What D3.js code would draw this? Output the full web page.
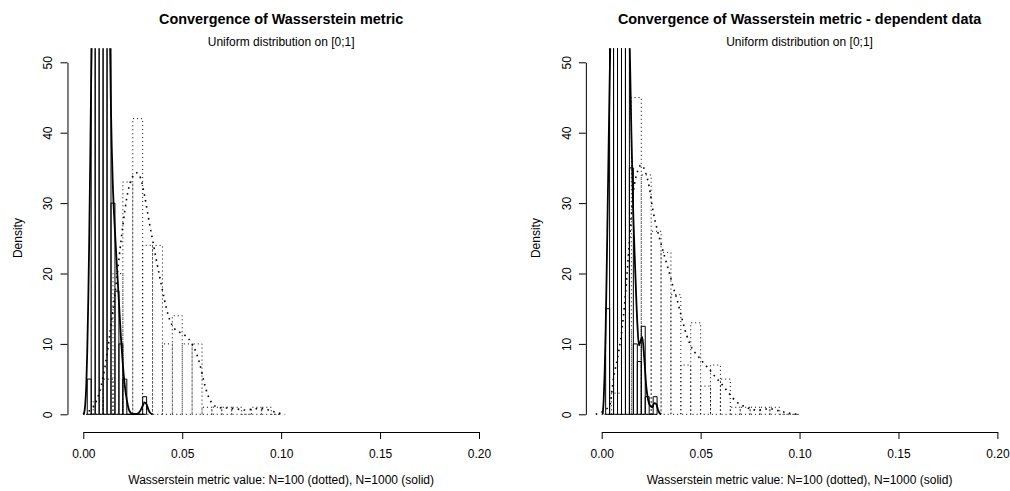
<!DOCTYPE html>
<html>
<head>
<meta charset="utf-8">
<script src="https://cdn.jsdelivr.net/npm/d3@7"></script>
<style>
  body { margin: 0; background: #fff; }
  svg { display: block; }
  text { font-family: "Liberation Sans", Arial, Helvetica, sans-serif; fill: #000; }
</style>
</head>
<body>
<svg id="chart" width="1010" height="491"></svg>
<script>
// ---- axis ticks ----
const xTicks = [0, 0.05, 0.10, 0.15, 0.20];
const yTicks = [0, 10, 20, 30, 40, 50];

// ---- histogram breaks ----
const breaksN100 = [0, 0.005, 0.010, 0.015, 0.020, 0.025, 0.030, 0.035, 0.040, 0.045, 0.050,
                    0.055, 0.060, 0.065, 0.070, 0.075, 0.080, 0.085, 0.090, 0.095, 0.100];
const breaksN1000Indep = [0.002, 0.004, 0.006, 0.008, 0.010, 0.012, 0.014, 0.016, 0.018,
                          0.020, 0.022, 0.024, 0.026, 0.028, 0.030, 0.032];
const breaksN1000Dep = [0.002, 0.004, 0.006, 0.008, 0.010, 0.012, 0.014, 0.016, 0.018,
                        0.020, 0.022, 0.024, 0.026, 0.028];

// ---- histogram densities: independent sample ----
const densN100Indep  = [0, 2, 5, 20, 33, 42, 24, 24, 10, 14, 10, 10, 1, 1, 1, 1, 0, 1, 1, 0];
const densN1000Indep = [5, 60, 95, 100, 95, 80, 30, 17.5, 10, 5, 0, 0, 0, 0, 2.5];

// ---- histogram densities: dependent sample ----
const densN100Dep  = [0, 3, 12, 45, 34, 26, 23, 17, 7, 13, 4, 7, 5, 1, 1, 1, 1, 1, 0, 0];
const densN1000Dep = [15, 65, 90, 95, 90, 75, 35, 10, 7.5, 12.5, 2.5, 0, 2.5];

// ---- kernel density curves: independent sample ----
const kdeN100IndepX = [0.000, 0.001, 0.003, 0.005, 0.007, 0.009, 0.011, 0.013, 0.015,
                       0.017, 0.019, 0.021, 0.023, 0.025, 0.027, 0.029, 0.031, 0.033, 0.035,
                       0.037, 0.039, 0.041, 0.043, 0.045, 0.047, 0.049, 0.051, 0.053, 0.055,
                       0.057, 0.059, 0.061, 0.063, 0.065, 0.067, 0.070, 0.073, 0.076, 0.079,
                       0.082, 0.085, 0.088, 0.091, 0.094, 0.097, 0.100, 0.102];
const kdeN100IndepY = [0.05, 0.2, 0.5, 1.0, 2.2, 4.0, 6.8, 10.5, 14.8,
                       19.5, 24.5, 29.0, 32.2, 33.8, 34.3, 33.5, 31.0, 27.8, 24.8,
                       21.8, 19.0, 16.3, 14.0, 12.6, 11.9, 11.6, 11.3, 10.8, 10.0,
                       8.8, 7.0, 4.6, 2.7, 1.6, 1.1, 0.9, 0.9, 0.8, 0.7,
                       0.6, 0.7, 0.8, 0.8, 0.6, 0.3, 0.1, 0];
const kdeN1000IndepX = [0.000, 0.0005, 0.001, 0.0015, 0.002, 0.0025, 0.003, 0.0035, 0.004, 0.005,
                        0.006, 0.008, 0.010, 0.012, 0.013, 0.0135, 0.014, 0.015, 0.016, 0.017,
                        0.018, 0.019, 0.020, 0.021, 0.022, 0.023, 0.024, 0.025, 0.027, 0.028,
                        0.029, 0.030, 0.031, 0.032, 0.033, 0.034, 0.035];
const kdeN1000IndepY = [0, 0.3, 1.5, 4, 9, 16, 25, 36, 48, 68,
                        83, 96, 98, 85, 65, 53, 43, 32, 26, 21,
                        16, 11, 7, 4, 2, 0.7, 0.2, 0.05, 0.05, 0.2,
                        0.6, 1.2, 1.7, 1.4, 0.6, 0.15, 0];

// ---- kernel density curves: dependent sample ----
const kdeN100DepX = [-0.003, -0.002, 0.000, 0.002, 0.004, 0.006, 0.008, 0.010, 0.012, 0.014,
                     0.016, 0.018, 0.020, 0.022, 0.024, 0.026, 0.028, 0.030, 0.032, 0.034,
                     0.036, 0.038, 0.040, 0.042, 0.044, 0.046, 0.048, 0.050, 0.052, 0.054,
                     0.056, 0.058, 0.060, 0.062, 0.064, 0.066, 0.068, 0.070, 0.073, 0.076,
                     0.079, 0.082, 0.085, 0.088, 0.091, 0.094, 0.097, 0.099];
const kdeN100DepY = [0, 0.1, 0.3, 0.7, 1.2, 5.2, 8.0, 11.5, 17.0, 24.5,
                     31.5, 34.4, 35.4, 34.5, 32.3, 28.8, 26.3, 24.2, 22.2, 20.3,
                     18.2, 16.4, 14.2, 12.1, 10.4, 9.2, 8.5, 7.8, 7.1, 6.5,
                     5.8, 5.1, 4.5, 3.8, 3.1, 2.4, 1.8, 1.4, 1.0, 0.7,
                     0.6, 0.7, 0.8, 0.6, 0.4, 0.2, 0.05, 0];
const kdeN1000DepX = [0.0005, 0.001, 0.0015, 0.002, 0.0025, 0.003, 0.0035, 0.004, 0.0045, 0.005,
                      0.006, 0.008, 0.010, 0.012, 0.013, 0.014, 0.015, 0.016, 0.017, 0.018,
                      0.0188, 0.0195, 0.0205, 0.0215, 0.0225, 0.0235, 0.0245, 0.0255, 0.0265, 0.0275,
                      0.0285, 0.0295, 0.030];
const kdeN1000DepY = [0, 2, 6, 12, 20, 29, 38, 47, 55, 62,
                      75, 90, 95, 85, 70, 55, 40, 28, 20, 13,
                      9.8, 10.3, 11, 8, 4, 2, 1.2, 1, 1.6, 1.5,
                      0.6, 0.1, 0];

const mainTitles = ["Convergence of Wasserstein metric",
                    "Convergence of Wasserstein metric - dependent data"];
const subTitle = "Uniform distribution on [0;1]";
const xLabel = "Wasserstein metric value: N=100 (dotted), N=1000 (solid)";
const yLabel = "Density";

const panels = [
  { title: mainTitles[0], dx: 0,
    hist100: densN100Indep, hist1000: densN1000Indep, breaks1000: breaksN1000Indep,
    kde100: [kdeN100IndepX, kdeN100IndepY], kde1000: [kdeN1000IndepX, kdeN1000IndepY] },
  { title: mainTitles[1], dx: 518.4,
    hist100: densN100Dep, hist1000: densN1000Dep, breaks1000: breaksN1000Dep,
    kde100: [kdeN100DepX, kdeN100DepY], kde1000: [kdeN1000DepX, kdeN1000DepY] }
];

const svg = d3.select("#chart");
const FONT = 12;

// plot region in panel coordinates (4% extension around the axis limits)
const x0px = 83.3, x1px = 479.0, y0px = 414.3, y50px = 62.3;
const padX = (x1px - x0px) * 0.04, padY = (y0px - y50px) * 0.04;
const plotL = x0px - padX, plotR = x1px + padX, plotT = y50px - padY, plotB = 432;

panels.forEach((p, i) => {
  const g = svg.append("g").attr("transform", `translate(${p.dx},0)`);
  const x = d3.scaleLinear().domain([0, 0.2]).range([x0px, x1px]);
  const y = d3.scaleLinear().domain([0, 50]).range([y0px, y50px]);

  const clipId = "clip" + i;
  g.append("clipPath").attr("id", clipId).append("rect")
    .attr("x", plotL).attr("y", plotT).attr("width", plotR - plotL).attr("height", plotB - plotT);
  const plot = g.append("g").attr("clip-path", `url(#${clipId})`);

  const barPath = (b0, b1, h) => {
    const xa = x(b0), xb = x(b1), ya = y(0), yb = y(h);
    return `M${xa},${ya}L${xa},${yb}L${xb},${yb}L${xb},${ya}Z`;
  };

  // N=1000 histogram, solid outlines
  plot.append("g").selectAll("path").data(p.hist1000).join("path")
    .attr("d", (d, k) => barPath(p.breaks1000[k], p.breaks1000[k + 1], d))
    .attr("fill", "none").attr("stroke", "#000").attr("stroke-width", 1);

  // N=100 histogram, dotted outlines
  plot.append("g").selectAll("path").data(p.hist100).join("path")
    .attr("d", (d, k) => barPath(breaksN100[k], breaksN100[k + 1], d))
    .attr("fill", "none").attr("stroke", "#000").attr("stroke-width", 1)
    .attr("stroke-dasharray", "1,3");

  const line = d3.line().x(d => x(d[0])).y(d => y(d[1])).curve(d3.curveMonotoneX);
  const pts = arr => arr[0].map((v, k) => [v, arr[1][k]]);

  // density curves
  plot.append("path").datum(pts(p.kde1000)).attr("d", line)
    .attr("fill", "none").attr("stroke", "#000").attr("stroke-width", 1.8)
    .attr("stroke-linejoin", "round");
  plot.append("path").datum(pts(p.kde100)).attr("d", line)
    .attr("fill", "none").attr("stroke", "#000").attr("stroke-width", 1.6)
    .attr("stroke-dasharray", "1.6,4.4");

  // x axis
  const xa = g.append("g").attr("transform", `translate(0,${plotB})`)
    .call(d3.axisBottom(x).tickValues(xTicks).tickFormat(d3.format(".2f"))
      .tickSize(7).tickSizeOuter(0));
  xa.select(".domain").attr("stroke", "#000");
  xa.selectAll(".tick line").attr("stroke", "#000");
  xa.selectAll(".tick text").attr("y", 25.5).attr("dy", null)
    .style("font-size", FONT + "px").style("font-family", "Liberation Sans, Arial, sans-serif");

  // y axis
  const ya = g.append("g").attr("transform", `translate(${plotL},0)`)
    .call(d3.axisLeft(y).tickValues(yTicks).tickSize(7).tickSizeOuter(0));
  ya.select(".domain").attr("stroke", "#000");
  ya.selectAll(".tick line").attr("stroke", "#000");
  ya.selectAll(".tick text").attr("x", null).attr("dy", "0.35em").attr("text-anchor", "middle")
    .attr("transform", "translate(-19.5,0) rotate(-90)")
    .style("font-size", FONT + "px").style("font-family", "Liberation Sans, Arial, sans-serif");

  const cx = (plotL + plotR) / 2;
  g.append("text").attr("x", cx).attr("y", 23.5).attr("text-anchor", "middle")
    .style("font-size", "14.4px").style("font-weight", "bold").text(p.title);
  g.append("text").attr("x", cx).attr("y", 45.5).attr("text-anchor", "middle")
    .style("font-size", FONT + "px").text(subTitle);
  g.append("text").attr("x", cx).attr("y", 484).attr("text-anchor", "middle")
    .style("font-size", FONT + "px").text(xLabel);
  g.append("text").attr("transform", `translate(21.5,${(plotT + 428) / 2}) rotate(-90)`)
    .attr("text-anchor", "middle").style("font-size", FONT + "px").text(yLabel);
});
</script>
</body>
</html>
